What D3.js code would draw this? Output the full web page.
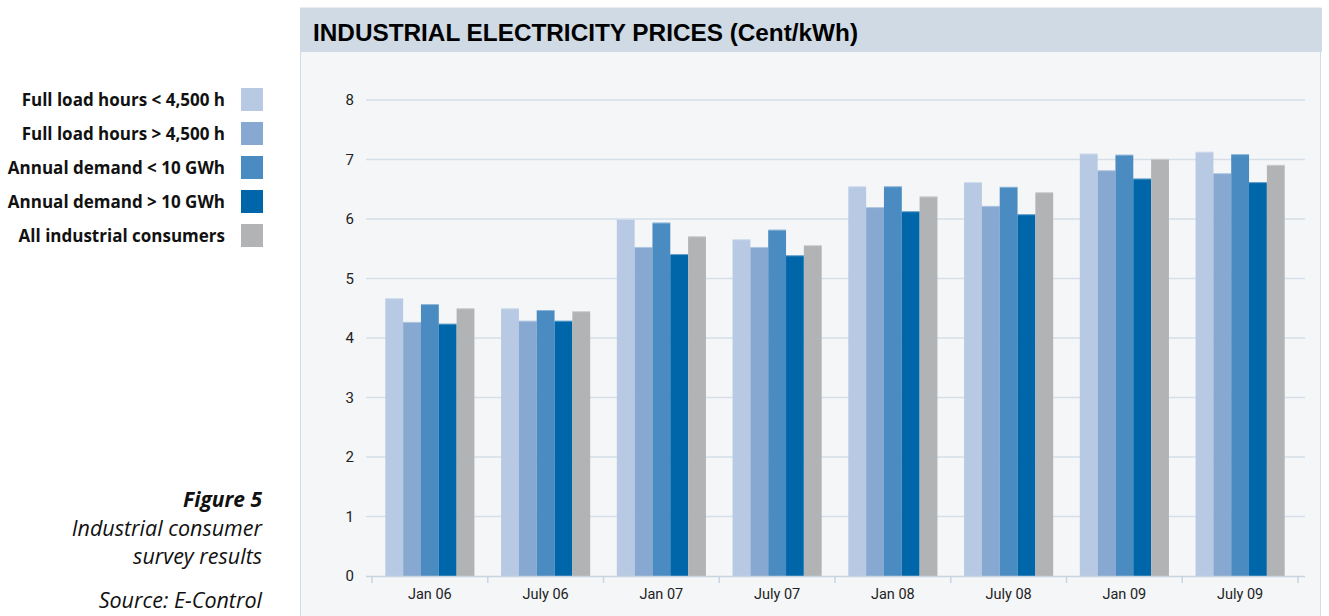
<!DOCTYPE html>
<html lang="en"><head>
<meta charset="utf-8">
<title>Industrial electricity prices</title>
<script src="https://cdnjs.cloudflare.com/ajax/libs/d3/7.8.5/d3.min.js"></script>
<style>
  body { margin: 0; background: #fff; }
  svg { display: block; font-family: Roboto, "Liberation Sans", sans-serif; }
</style>
</head>
<body>
<svg id="chart" width="1329" height="616"></svg>
<script>
// data
var periods = ["Jan 06", "July 06", "Jan 07", "July 07", "Jan 08", "July 08", "Jan 09", "July 09"];
var seriesNames = ["Full load hours < 4,500 h", "Full load hours > 4,500 h", "Annual demand < 10 GWh", "Annual demand > 10 GWh", "All industrial consumers"];
var fullLoadLow  = [4.67, 4.50, 6.00, 5.66, 6.55, 6.62, 7.10, 7.13];
var fullLoadHigh = [4.27, 4.29, 5.53, 5.53, 6.20, 6.22, 6.82, 6.77];
var demandLow    = [4.57, 4.47, 5.94, 5.82, 6.55, 6.54, 7.08, 7.09];
var demandHigh   = [4.24, 4.29, 5.41, 5.39, 6.13, 6.08, 6.68, 6.62];
var allConsumers = [4.50, 4.45, 5.71, 5.56, 6.38, 6.45, 7.01, 6.91];
var yTicks = [0, 1, 2, 3, 4, 5, 6, 7, 8];
var colors = ["#b7c9e3", "#86a8d1", "#4a8bc2", "#0066aa", "#b2b3b5"];

var series = [fullLoadLow, fullLoadHigh, demandLow, demandHigh, allConsumers];

var svg = d3.select("#chart");

// panel
svg.append("rect").attr("x", 300.5).attr("y", 8).attr("width", 1020).attr("height", 620)
  .attr("fill", "#f4f6f8").attr("stroke", "#d3dce6");
svg.append("rect").attr("x", 300).attr("y", 8).attr("width", 1022).attr("height", 44)
  .attr("fill", "#cfdae4");
svg.append("text").attr("x", 313).attr("y", 41)
  .attr("font-family", "'Liberation Sans Narrow', 'Liberation Sans', sans-serif")
  .attr("font-weight", "bold").attr("font-size", 23).attr("fill", "#000")
  .attr("textLength", 545).attr("lengthAdjust", "spacingAndGlyphs")
  .text("INDUSTRIAL ELECTRICITY PRICES (Cent/kWh)");

var y = d3.scaleLinear().domain([0, 8]).range([576, 100]);
var x0 = d3.scaleBand().domain(periods).range([372, 1298]).paddingInner(0.23).paddingOuter(0.115);
var x1 = d3.scaleBand().domain(d3.range(series.length)).range([0, x0.bandwidth()]);

// gridlines
svg.append("g").selectAll("line").data(yTicks.filter(function(d){ return d > 0; })).enter().append("line")
  .attr("x1", 366).attr("x2", 1305)
  .attr("y1", function(d){ return y(d); }).attr("y2", function(d){ return y(d); })
  .attr("stroke", "#d6dfe8").attr("stroke-width", 1.5);

// y labels
svg.append("g").selectAll("text").data(yTicks).enter().append("text")
  .attr("x", 354).attr("y", function(d){ return y(d) + 5; })
  .attr("text-anchor", "end").attr("font-size", 15).attr("fill", "#222")
  .text(function(d){ return d; });

// bars
var groups = svg.append("g").selectAll("g").data(periods).enter().append("g")
  .attr("transform", function(d){ return "translate(" + x0(d) + ",0)"; });

groups.each(function(p, i) {
  var g = d3.select(this);
  series.forEach(function(s, j) {
    g.append("rect")
      .attr("x", x1(j)).attr("width", x1.bandwidth())
      .attr("y", y(s[i])).attr("height", y(0) - y(s[i]))
      .attr("fill", colors[j]);
    g.append("line")
      .attr("x1", x1(j)).attr("x2", x1(j) + x1.bandwidth())
      .attr("y1", y(s[i]) + 0.5).attr("y2", y(s[i]) + 0.5)
      .attr("stroke", "#fff").attr("stroke-opacity", 0.35);
  });
});

// x axis
svg.append("line").attr("x1", 366).attr("x2", 1305).attr("y1", 576.5).attr("y2", 576.5)
  .attr("stroke", "#c8d4e0").attr("stroke-width", 1.5);
var bounds = periods.map(function(d){ return x0(d) - x0.step() * x0.paddingInner() / 2; });
bounds.push(x0(periods[periods.length - 1]) + x0.bandwidth() + x0.step() * x0.paddingInner() / 2);
svg.append("g").selectAll("line").data(bounds).enter().append("line")
  .attr("x1", function(d){ return d; }).attr("x2", function(d){ return d; })
  .attr("y1", 576).attr("y2", 583)
  .attr("stroke", "#c8d4e0").attr("stroke-width", 1.5);
svg.append("g").selectAll("text").data(periods).enter().append("text")
  .attr("x", function(d){ return x0(d) + x0.bandwidth() / 2; }).attr("y", 599)
  .attr("text-anchor", "middle").attr("font-size", 14.5).attr("fill", "#222")
  .text(function(d){ return d; });

// legend
var legend = svg.append("g").selectAll("g").data(seriesNames).enter().append("g")
  .attr("transform", function(d, i){ return "translate(0," + (88 + i * 34) + ")"; });
legend.append("rect").attr("x", 241).attr("width", 22).attr("height", 23)
  .attr("fill", function(d, i){ return colors[i]; });
legend.append("text").attr("x", 225).attr("y", 17.5)
  .attr("text-anchor", "end").attr("font-family", "'Open Sans', sans-serif")
  .attr("font-weight", "bold").attr("font-size", 17).attr("fill", "#111")
  .text(function(d){ return d; });

// caption
var cap = svg.append("g").attr("font-family", "'Open Sans', sans-serif")
  .attr("font-style", "italic").attr("font-size", 21.5).attr("fill", "#111").attr("text-anchor", "end");
cap.append("text").attr("x", 262).attr("y", 507).attr("font-weight", "bold").attr("font-size", 21).text("Figure 5");
cap.append("text").attr("x", 262).attr("y", 536).text("Industrial consumer");
cap.append("text").attr("x", 262).attr("y", 564).text("survey results");
cap.append("text").attr("x", 262).attr("y", 608).text("Source: E-Control");
</script>
</body></html>
